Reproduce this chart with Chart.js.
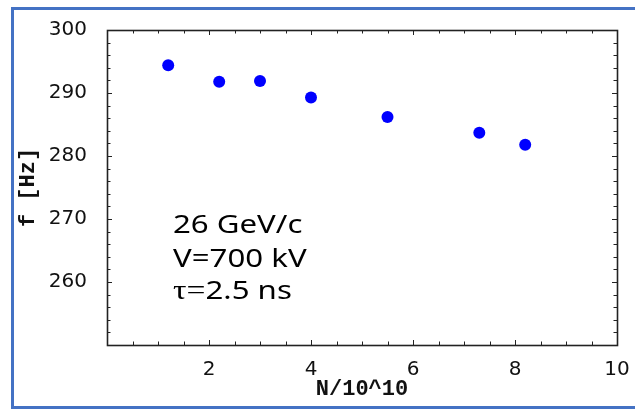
<!DOCTYPE html>
<html>
<head>
<meta charset="utf-8">
<script src="https://cdn.jsdelivr.net/npm/chart.js@4/dist/chart.umd.min.js"></script>
<style>
  html, body { margin: 0; padding: 0; background: #fff; overflow: hidden; }
  #wrap { width: 635px; height: 412px; position: relative; overflow: hidden; }
  canvas { display: block; }
</style>
</head>
<body>
<div id="wrap"><canvas id="c" width="635" height="412"></canvas></div>
<script>
// Synchrotron frequency versus bunch intensity
const intensity = [1.2, 2.2, 3.0, 4.0, 5.5, 7.3, 8.2];          // N / 10^10
const frequency = [294.4, 291.8, 291.9, 289.3, 286.2, 283.7, 281.8]; // f [Hz]
const xTickLabels = [2, 4, 6, 8, 10];
const yTickLabels = [260, 270, 280, 290, 300];
const noteLines = [
  [{ text: '26 GeV/c' }],
  [{ text: 'V=700 kV' }],
  [{ text: 'τ=', serif: true }, { text: '2.5 ns' }]
];

const points = intensity.map((n, i) => ({ x: n, y: frequency[i] }));

// slide border (open on the right), plot frame with inward ticks, beam-parameter note
const framePlugin = {
  id: 'frame',
  beforeDraw(chart) {
    const ctx = chart.ctx;
    ctx.save();
    ctx.fillStyle = '#4472C4';
    ctx.fillRect(11, 7, 624, 3);    // top edge
    ctx.fillRect(11, 7, 3, 402);    // left edge
    ctx.fillRect(11, 406, 624, 3);  // bottom edge
    ctx.restore();
  },
  beforeDatasetsDraw(chart) {
    const { ctx, chartArea: { left, right, top, bottom }, scales: { x, y } } = chart;
    ctx.save();
    ctx.strokeStyle = '#222';
    ctx.lineWidth = 1;
    ctx.beginPath();
    x.ticks.forEach(t => {
      const px = Math.round(x.getPixelForValue(t.value)) + 0.5;
      const len = xTickLabels.includes(t.value) ? 5 : 3.5;
      ctx.moveTo(px, bottom); ctx.lineTo(px, bottom - len);
      ctx.moveTo(px, top); ctx.lineTo(px, top + len);
    });
    y.ticks.forEach(t => {
      const py = Math.round(y.getPixelForValue(t.value)) + 0.5;
      const len = t.value % 10 === 0 ? 5 : 3.5;
      ctx.moveTo(left, py); ctx.lineTo(left + len, py);
      ctx.moveTo(right, py); ctx.lineTo(right - len, py);
    });
    ctx.stroke();
    ctx.lineWidth = 1.6;
    ctx.strokeRect(Math.round(left) + 0.5, Math.round(top) + 0.5,
                   Math.round(right - left), Math.round(bottom - top));
    ctx.restore();
  },
  afterDraw(chart) {
    const ctx = chart.ctx;
    const stretch = 1.2;
    const baselines = [233, 267, 299];
    ctx.save();
    ctx.fillStyle = '#000';
    ctx.textBaseline = 'alphabetic';
    noteLines.forEach((segs, i) => {
      ctx.save();
      ctx.translate(173, baselines[i]);
      ctx.scale(stretch, 1);
      let cx = 0;
      segs.forEach(s => {
        ctx.font = s.serif ? '28px "Liberation Serif"' : '26px "Noto Sans"';
        ctx.fillText(s.text, cx, 0);
        cx += ctx.measureText(s.text).width;
      });
      ctx.restore();
    });
    ctx.restore();
  }
};

new Chart(document.getElementById('c'), {
  type: 'scatter',
  data: {
    datasets: [{
      data: points,
      backgroundColor: '#0000FF',
      borderColor: '#0000FF',
      pointRadius: 6,
      pointHoverRadius: 6,
      borderWidth: 0
    }]
  },
  options: {
    responsive: false,
    animation: false,
    layout: { padding: { left: 0, top: 30, right: 18, bottom: 0 } },
    plugins: { legend: { display: false }, tooltip: { enabled: false } },
    scales: {
      x: {
        type: 'linear',
        min: 0, max: 10,
        grid: { display: false },
        border: { display: false },
        afterFit(scale) { scale.height = 67; },
        ticks: {
          stepSize: 0.5,
          autoSkip: false,
          maxRotation: 0,
          padding: 5,
          color: '#111',
          font: { family: 'DejaVu Sans', size: 20 },
          callback: v => xTickLabels.includes(v) ? String(v) : ''
        },
        title: {
          display: true,
          text: 'N/10^10',
          color: '#111',
          font: { family: 'Liberation Mono', size: 22, weight: 'bold' },
          padding: { top: 0, bottom: 9 }
        }
      },
      y: {
        type: 'linear',
        min: 250, max: 300,
        grid: { display: false },
        border: { display: false },
        afterFit(scale) { scale.width = 107; },
        ticks: {
          stepSize: 2,
          autoSkip: false,
          padding: 12,
          color: '#111',
          font: { family: 'DejaVu Sans', size: 20 },
          callback: v => yTickLabels.includes(v) ? String(v) : ''
        },
        title: {
          display: true,
          text: 'f [Hz]',
          color: '#111',
          font: { family: 'Liberation Mono', size: 22, weight: 'bold' },
          padding: { top: 15, bottom: 0 }
        }
      }
    }
  },
  plugins: [framePlugin]
});
</script>
</body>
</html>
